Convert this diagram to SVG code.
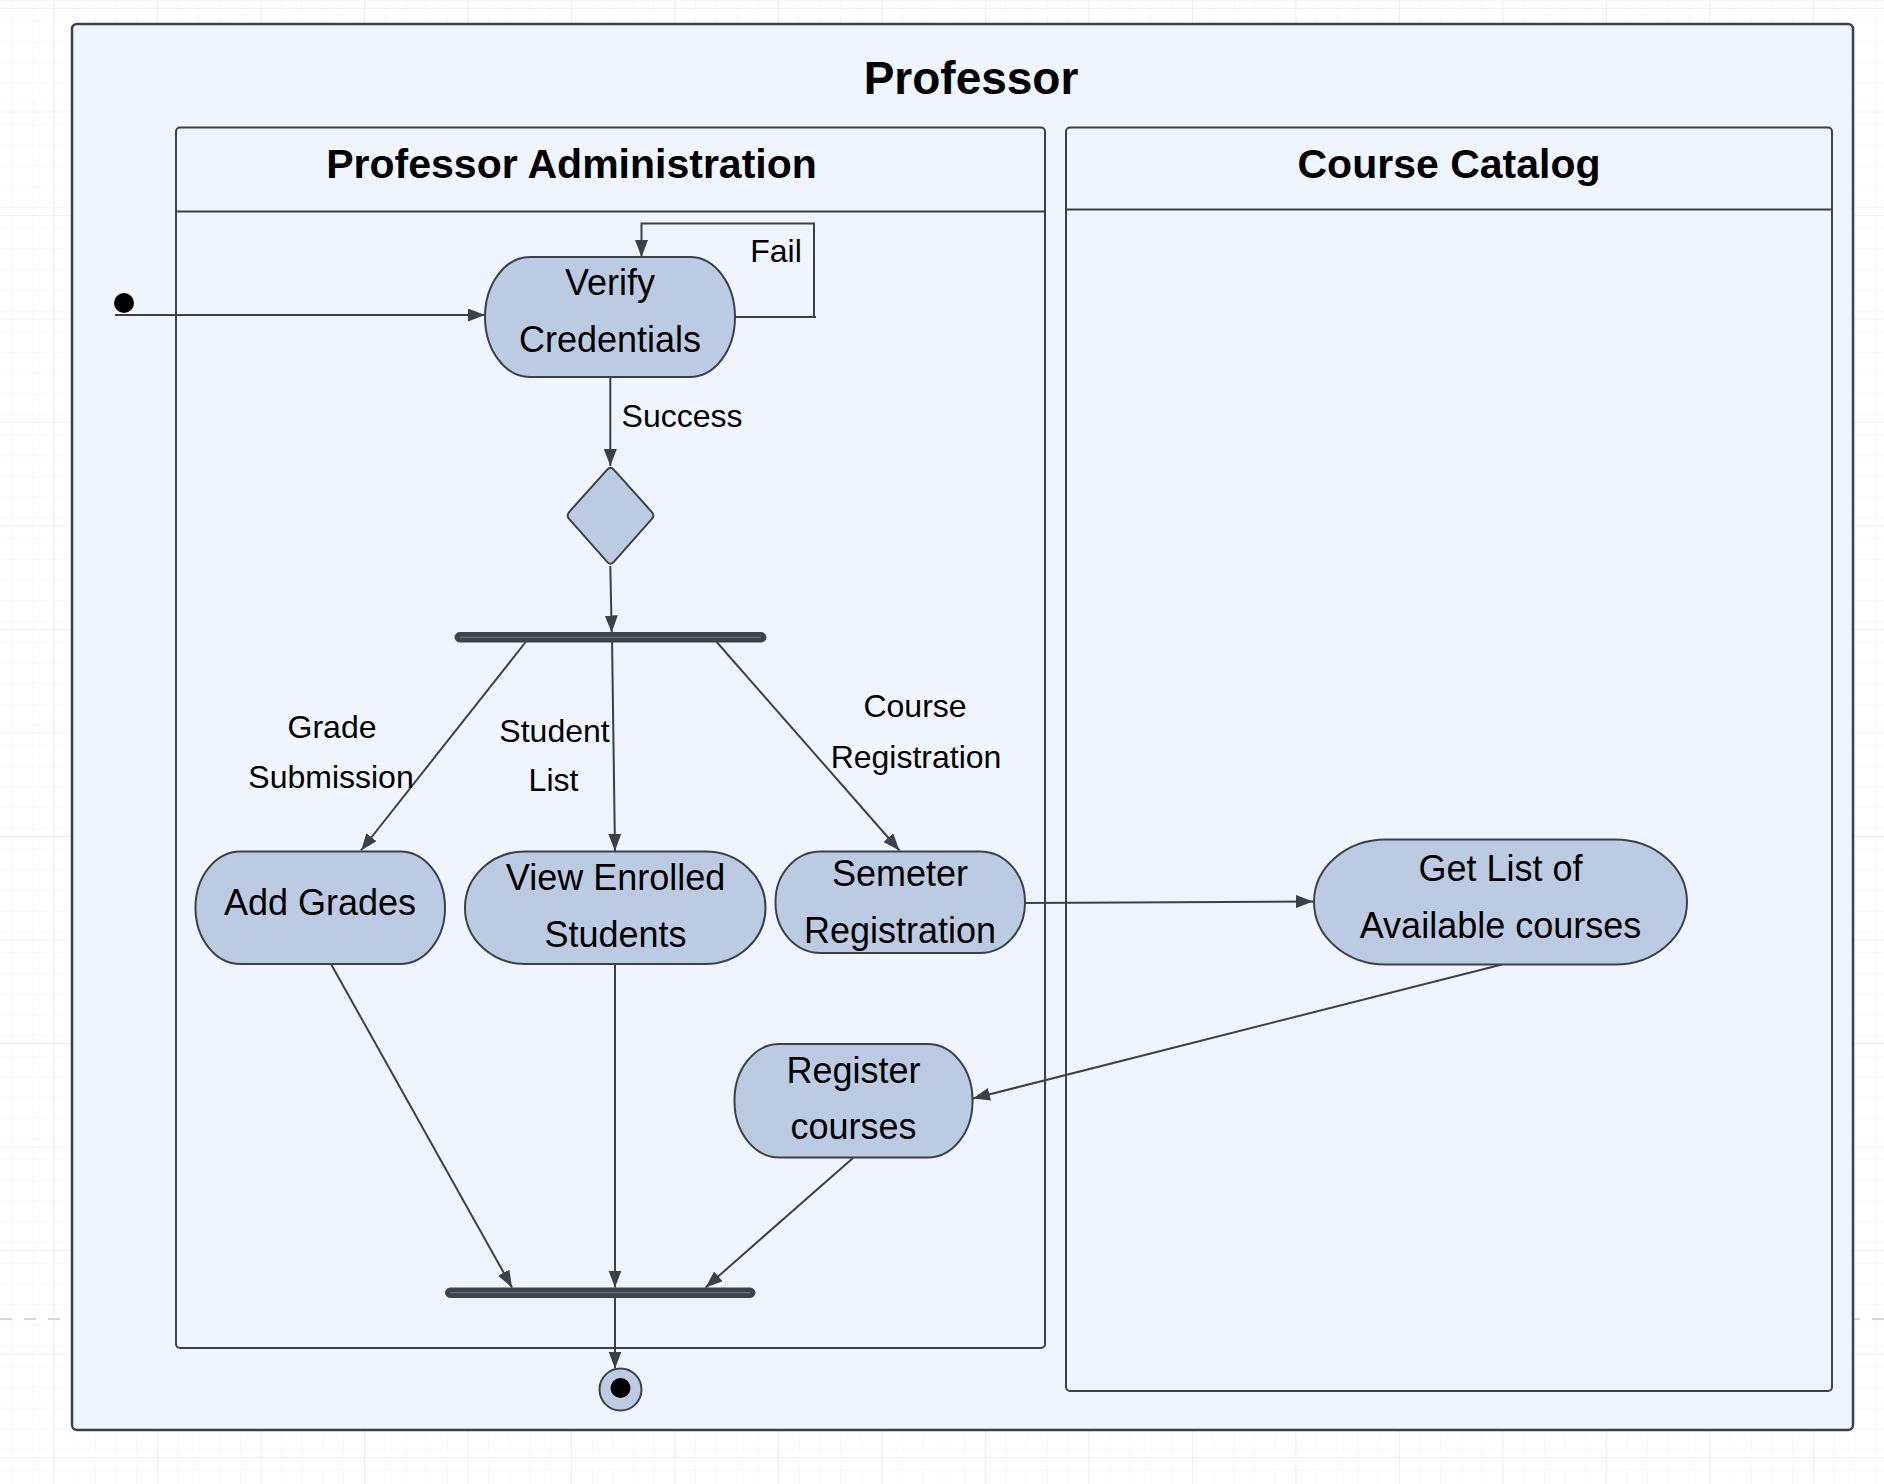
<svg xmlns="http://www.w3.org/2000/svg" width="1884" height="1484" viewBox="0 0 1884 1484">
<defs>
<pattern id="gridMinor" x="53.4" y="0" width="20.7" height="20.7" patternUnits="userSpaceOnUse">
<path d="M0,0 V20.7 M0,0 H20.7" fill="none" stroke="#efefef" stroke-width="1"/>
</pattern>
<pattern id="gridMajor" x="53.4" y="8" width="103.5" height="103.5" patternUnits="userSpaceOnUse">
<path d="M0,0 V103.5 M0,0 H103.5" fill="none" stroke="#e2e2e2" stroke-width="1"/>
</pattern>
<marker id="arr" markerUnits="userSpaceOnUse" markerWidth="18" markerHeight="14" refX="17" refY="6.5" orient="auto">
<path d="M0,0 L17,6.5 L0,13 z" fill="#3a414a"/>
</marker>
<style>
.frame{fill:#eef5ff;stroke:#3a414a;stroke-width:2.5}
.panel{fill:#eef5ff;stroke:#3a414a;stroke-width:2}
.sep{stroke:#3a414a;stroke-width:2}
.node{fill:#bccbe2;stroke:#3a414a;stroke-width:2}
.bar{fill:#3d444d;stroke:#3a414a;stroke-width:1}
.barline{stroke:#6f7884;stroke-width:1}
.conn{fill:none;stroke:#3a414a;stroke-width:2}
.t1{font-family:"Liberation Sans",Arial,sans-serif;font-weight:bold;font-size:46px;fill:#000;text-anchor:middle}
.t2{font-family:"Liberation Sans",Arial,sans-serif;font-weight:bold;font-size:41px;fill:#000;text-anchor:middle}
.nt{font-family:"Liberation Sans",Arial,sans-serif;font-size:36px;fill:#000;text-anchor:middle}
.lb{font-family:"Liberation Sans",Arial,sans-serif;font-size:32px;fill:#000;text-anchor:middle}
</style>
</defs>
<rect x="0" y="0" width="1884" height="1484" fill="#ffffff"/>
<rect x="0" y="0" width="1884" height="1484" fill="url(#gridMinor)"/>
<rect x="0" y="0" width="1884" height="1484" fill="url(#gridMajor)"/>
<line x1="0" y1="1319" x2="1884" y2="1319" stroke="#d6d6d6" stroke-width="2" stroke-dasharray="12 12"/>

<g id="professor-frame">
<rect class="frame" x="72" y="24" width="1781" height="1406" rx="5"/>
<text class="t1" x="971" y="94">Professor</text>
</g>

<g id="lane-professor-administration">
<rect class="panel" x="176" y="127.5" width="869" height="1220.5" rx="4"/>
<line class="sep" x1="176" y1="211.5" x2="1045" y2="211.5"/>
<text class="t2" x="571.5" y="178">Professor Administration</text>
</g>

<g id="lane-course-catalog">
<rect class="panel" x="1066" y="127.5" width="766" height="1263.5" rx="4"/>
<line class="sep" x1="1066" y1="209.5" x2="1832" y2="209.5"/>
<text class="t2" x="1449" y="178">Course Catalog</text>
</g>

<g id="connectors">
<path class="conn" d="M115,315 L485,315" marker-end="url(#arr)"/>
<path class="conn" d="M735,317 H816 M814,317 V223.5 H641.5 V257" marker-end="url(#arr)"/>
<path class="conn" d="M610.3,377 L610.3,466" marker-end="url(#arr)"/>
<path class="conn" d="M610.3,566 L611.7,632.5" marker-end="url(#arr)"/>
<path class="conn" d="M525.7,642 L361,850.5" marker-end="url(#arr)"/>
<path class="conn" d="M612,637 L615,851" marker-end="url(#arr)"/>
<path class="conn" d="M716.7,642 L899.5,850.5" marker-end="url(#arr)"/>
<path class="conn" d="M1025,903 L1313,901.5" marker-end="url(#arr)"/>
<path class="conn" d="M1502,964.5 L973,1098.5" marker-end="url(#arr)"/>
<path class="conn" d="M331,964 L512,1287.5" marker-end="url(#arr)"/>
<path class="conn" d="M615,964 L615,1287.5" marker-end="url(#arr)"/>
<path class="conn" d="M853,1158 L705.6,1287.5" marker-end="url(#arr)"/>
<path class="conn" d="M615,1292 L615,1368.5" marker-end="url(#arr)"/>
<text class="lb" x="776" y="262">Fail</text>
<text class="lb" x="682" y="427">Success</text>
<text class="lb" x="332" y="738">Grade</text>
<text class="lb" x="331" y="788">Submission</text>
<text class="lb" x="554.5" y="742">Student</text>
<text class="lb" x="553.5" y="791">List</text>
<text class="lb" x="915" y="717">Course</text>
<text class="lb" x="916" y="768">Registration</text>
</g>

<g id="initial-node">
<circle cx="124" cy="303" r="10" fill="#000"/>
</g>

<g id="verify-credentials">
<rect class="node" x="485" y="257" width="250" height="120" rx="45" ry="60"/>
<text class="nt" x="610" y="295">Verify</text>
<text class="nt" x="610" y="352">Credentials</text>
</g>

<g id="decision">
<path class="node" d="M613.8,469.7 L651.7,511.8 Q655,515.5 651.7,519.2 L613.8,561.8 Q610.5,565.5 607.2,561.8 L569.3,519.2 Q566,515.5 569.3,511.8 L607.2,469.7 Q610.5,466 613.8,469.7 Z"/>
</g>

<g id="fork-bar">
<rect class="bar" x="455" y="632.5" width="311" height="9.5" rx="4.75"/>
<line class="barline" x1="460" y1="637.3" x2="761" y2="637.3"/>
</g>

<g id="add-grades">
<rect class="node" x="195.5" y="851.5" width="249.5" height="112.5" rx="45" ry="56"/>
<text class="nt" x="320" y="915">Add Grades</text>
</g>

<g id="view-enrolled-students">
<rect class="node" x="465" y="851.5" width="300.5" height="112.5" rx="60" ry="56"/>
<text class="nt" x="615.5" y="890">View Enrolled</text>
<text class="nt" x="615.5" y="947">Students</text>
</g>

<g id="semeter-registration">
<rect class="node" x="775.5" y="851.5" width="249.5" height="101.5" rx="45" ry="50"/>
<text class="nt" x="900" y="886">Semeter</text>
<text class="nt" x="900" y="943">Registration</text>
</g>

<g id="get-list-of-available-courses">
<rect class="node" x="1314" y="839.5" width="373" height="125" rx="72" ry="62.5"/>
<text class="nt" x="1500.5" y="881">Get List of</text>
<text class="nt" x="1500.5" y="938">Available courses</text>
</g>

<g id="register-courses">
<rect class="node" x="734.5" y="1044" width="238" height="113.5" rx="45" ry="56"/>
<text class="nt" x="853.5" y="1083">Register</text>
<text class="nt" x="853.5" y="1139">courses</text>
</g>

<g id="join-bar">
<rect class="bar" x="445.5" y="1288" width="309.5" height="9.5" rx="4.75"/>
<line class="barline" x1="450" y1="1292.7" x2="750" y2="1292.7"/>
</g>

<g id="final-node">
<circle class="node" cx="620.5" cy="1389.5" r="21"/>
<circle cx="620.5" cy="1388" r="10" fill="#000"/>
</g>
</svg>
